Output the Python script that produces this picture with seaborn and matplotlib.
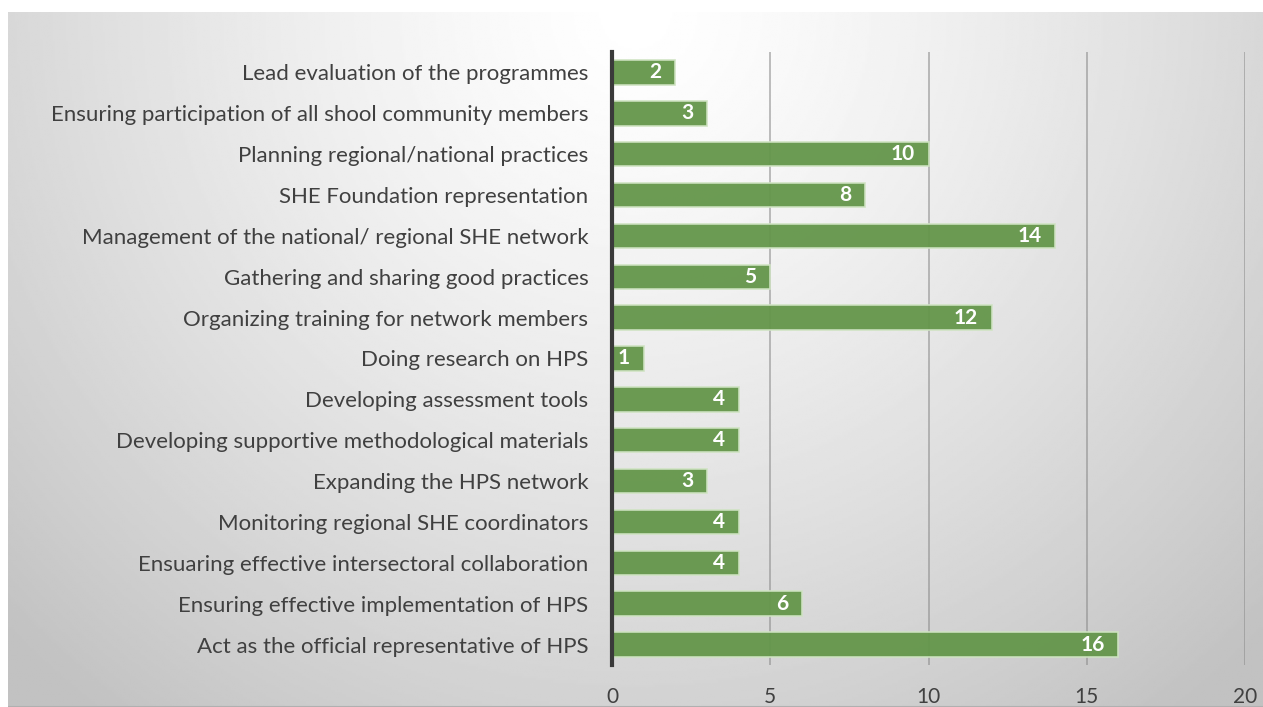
import numpy as np
import pandas as pd
import seaborn as sns
import matplotlib.pyplot as plt

categories = [
    'Lead evaluation of the programmes',
    'Ensuring participation of all shool community members',
    'Planning regional/national practices',
    'SHE Foundation representation',
    'Management of the national/ regional SHE network',
    'Gathering and sharing good practices',
    'Organizing training for network members',
    'Doing research on HPS',
    'Developing assessment tools',
    'Developing supportive methodological materials',
    'Expanding the HPS network',
    'Monitoring regional SHE coordinators',
    'Ensuaring effective intersectoral collaboration',
    'Ensuring effective implementation of HPS',
    'Act as the official representative of HPS',
]
counts = [2, 3, 10, 8, 14, 5, 12, 1, 4, 4, 3, 4, 4, 6, 16]
x_ticks = [0, 5, 10, 15, 20]

sns.set_style('white')
plt.rcParams['font.family'] = ['Lato', 'DejaVu Sans']

df = pd.DataFrame({'task': categories, 'count': counts})

fig = plt.figure(figsize=(12.63, 7.07), dpi=100)
fig.patch.set_facecolor('white')

# radial grey background frame
bg = fig.add_axes([8 / 1263, 0, 1 - 8 / 1263, 1 - 12 / 707])
yy, xx = np.mgrid[0:1:300j, 0:1:600j]
dist = np.sqrt(((xx - 0.5) * 1.0) ** 2 + (yy * 0.55) ** 2)
shade = np.clip(1.0 - 0.38 * dist ** 1.3, 0.76, 1.0)
bg.imshow(shade, cmap='gray', vmin=0, vmax=1, aspect='auto', extent=[0, 1, 1, 0])
bg.set_axis_off()
bg.axhline(1.0, color='#b0b0b0', lw=1.5)

ax = fig.add_axes([612 / 1263, 1 - 665 / 707, (1245 - 612) / 1263, (665 - 52) / 707])
ax.patch.set_alpha(0)

sns.barplot(data=df, x='count', y='task', orient='h', color='#64964a',
            saturation=1, width=0.6, edgecolor='#cfe3c2', linewidth=1.2,
            alpha=0.95, ax=ax, zorder=3)

for i, v in enumerate(counts):
    ax.annotate(str(v), xy=(v, i), xytext=(-10, 0), textcoords='offset points',
                ha='right', va='center', color='white', fontweight='bold',
                fontsize=15, zorder=5)

ax.set_xlim(0, 20)
ax.set_xticks(x_ticks)
ax.xaxis.grid(True, color='#8a8a8a', lw=1.1, alpha=0.7, zorder=4)
ax.set_axisbelow(False)
for line in ax.get_xgridlines():
    line.set_zorder(4)
ax.set_xlabel('')
ax.set_ylabel('')
for s in ['top', 'right', 'bottom']:
    ax.spines[s].set_visible(False)
ax.spines['left'].set_color('#3a3a3a')
ax.spines['left'].set_linewidth(3)
ax.spines['left'].set_zorder(6)
ax.tick_params(axis='x', length=0, pad=16, labelsize=15, labelcolor='#404040')
ax.tick_params(axis='y', length=0, pad=17, labelsize=16, labelcolor='#404040')

fig.savefig('out.png', dpi=100)
